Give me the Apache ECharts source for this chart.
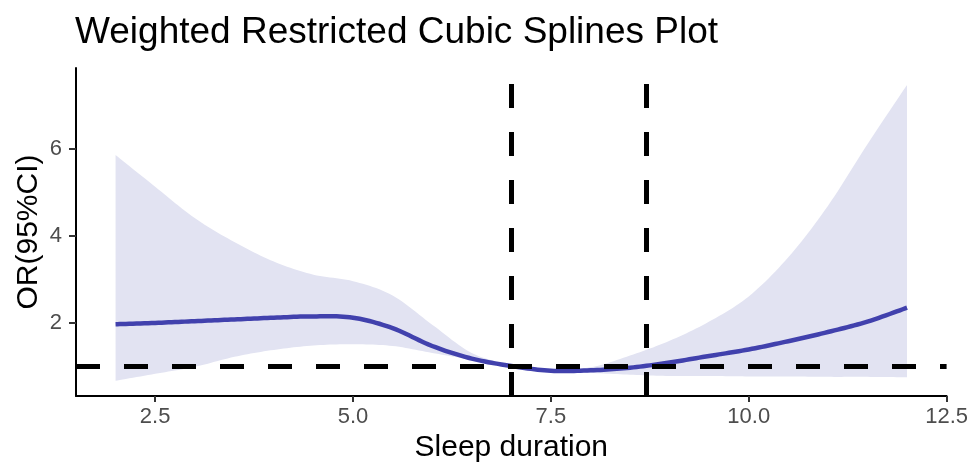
<!DOCTYPE html>
<html>
<head>
<meta charset="utf-8">
<script src="https://cdn.jsdelivr.net/npm/echarts@6/dist/echarts.min.js"></script>
<style>
html,body{margin:0;padding:0;background:#fff;}
#chart{width:971px;height:468px;}
</style>
</head>
<body>
<div id="chart"></div>
<script>
// Sleep duration grid
const sleepHours = [2.0,2.5,3.0,3.5,4.0,4.5,5.0,5.5,6.0,6.5,7.0,7.5,8.0,8.5,9.0,9.5,10.0,10.5,11.0,11.5,12.0];
// Fitted odds ratio
const orFit   = [1.96,1.99,2.03,2.07,2.11,2.14,2.11,1.87,1.46,1.17,1.00,0.89,0.90,0.96,1.08,1.23,1.38,1.57,1.78,2.02,2.34];
// 95% CI upper
const ciUpper = [5.85,5.12,4.40,3.85,3.40,3.10,2.95,2.62,1.95,1.30,1.03,0.93,0.97,1.24,1.58,2.02,2.60,3.50,4.68,6.10,7.46];
// 95% CI lower
const ciLower = [0.66,0.82,0.98,1.21,1.37,1.47,1.50,1.46,1.30,1.14,0.98,0.86,0.84,0.80,0.77,0.77,0.76,0.76,0.75,0.75,0.74];
// Reference lines
const refOR = 1;
const knotLines = [7.0, 8.7];
// Tick labels
const xTicks = [2.5, 5.0, 7.5, 10.0, 12.5];
const yTicks = [2, 4, 6];

// Catmull-Rom smoothing in pixel space (rendering only)
function smoothPts(pts, n) {
  const out = [];
  for (let i = 0; i < pts.length - 1; i++) {
    const p0 = pts[Math.max(i - 1, 0)], p1 = pts[i], p2 = pts[i + 1], p3 = pts[Math.min(i + 2, pts.length - 1)];
    for (let k = 0; k < n; k++) {
      const t = k / n, t2 = t * t, t3 = t2 * t;
      const f = (a, b, c, d) => 0.5 * ((2 * b) + (-a + c) * t + (2 * a - 5 * b + 4 * c - d) * t2 + (-a + 3 * b - 3 * c + d) * t3);
      out.push([f(p0[0], p1[0], p2[0], p3[0]), f(p0[1], p1[1], p2[1], p3[1])]);
    }
  }
  out.push(pts[pts.length - 1]);
  return out;
}

const FONT = 'Liberation Sans, Arial, sans-serif';
const chart = echarts.init(document.getElementById('chart'), null, {renderer: 'canvas'});
chart.setOption({
  animation: false,
  backgroundColor: '#ffffff',
  title: {
    text: 'Weighted Restricted Cubic Splines Plot',
    left: 70, top: 9,
    textStyle: {fontFamily: FONT, fontSize: 37, fontWeight: 'normal', color: '#000'}
  },
  grid: {left: 76, right: 17, top: 68, bottom: 70, containLabel: false},
  xAxis: {
    type: 'value', min: 1.5, max: 12.5,
    name: 'Sleep duration', nameLocation: 'middle', nameGap: 37, nameMoveOverlap: false,
    nameTextStyle: {fontFamily: FONT, fontSize: 30, color: '#000'},
    axisLine: {show: true, lineStyle: {color: '#000', width: 2}},
    axisTick: {show: true, length: 6, lineStyle: {color: '#333', width: 2}, customValues: xTicks},
    axisLabel: {margin: 10, fontFamily: FONT, fontSize: 22, color: '#4d4d4d',
      customValues: xTicks, formatter: v => Number(v).toFixed(1)},
    splitLine: {show: false}
  },
  yAxis: {
    type: 'value', min: 0.31, max: 7.85,
    name: 'OR(95%CI)', nameLocation: 'middle', nameGap: 32, nameMoveOverlap: false,
    nameTextStyle: {fontFamily: FONT, fontSize: 30, color: '#000'},
    axisLine: {show: true, lineStyle: {color: '#000', width: 2}},
    axisTick: {show: true, length: 7, lineStyle: {color: '#333', width: 2}, customValues: yTicks},
    axisLabel: {margin: 14, fontFamily: FONT, fontSize: 22, color: '#4d4d4d',
      customValues: yTicks, formatter: v => String(v)},
    splitLine: {show: false}
  },
  series: [
    {
      name: 'band', type: 'custom', silent: true, z: 1,
      data: [0],
      renderItem: function (params, api) {
        const up = sleepHours.map((x, i) => api.coord([x, ciUpper[i]]));
        const lo = sleepHours.map((x, i) => api.coord([x, ciLower[i]]));
        const pts = smoothPts(up, 12).concat(smoothPts(lo.slice().reverse(), 12));
        return {type: 'polygon', shape: {points: pts}, style: {fill: 'rgb(226,227,242)'}};
      }
    },
    {
      name: 'OR', type: 'custom', silent: true, z: 3,
      data: [0],
      renderItem: function (params, api) {
        const pts = smoothPts(sleepHours.map((x, i) => api.coord([x, orFit[i]])), 12);
        return {type: 'polyline', shape: {points: pts},
          style: {stroke: '#4141ad', lineWidth: 4.5, fill: null, lineJoin: 'round'}};
      }
    },
    {
      name: 'ref', type: 'line', data: [], z: 5,
      markLine: {
        silent: true, symbol: 'none', animation: false,
        label: {show: false},
        lineStyle: {color: '#000', width: 5, type: [24, 24]},
        data: [{yAxis: refOR}].concat(knotLines.map(v => ({xAxis: v})))
      }
    }
  ]
});
</script>
</body>
</html>
